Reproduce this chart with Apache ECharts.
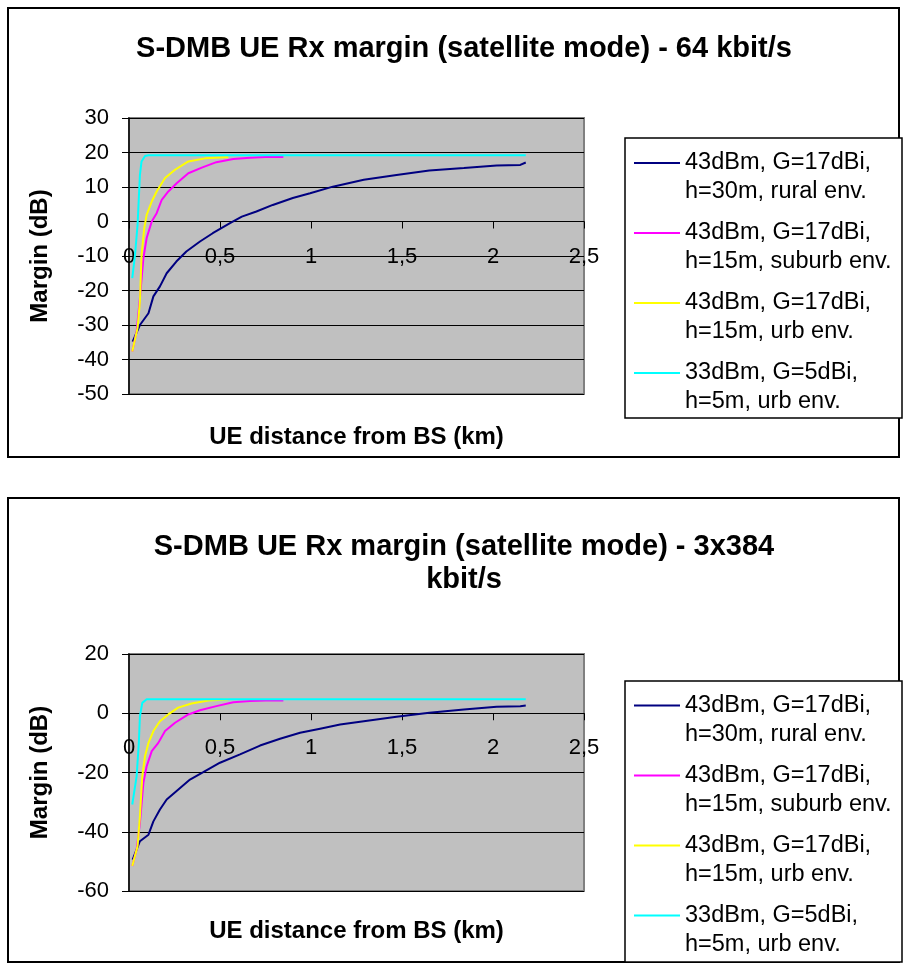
<!DOCTYPE html>
<html>
<head>
<meta charset="utf-8">
<script src="https://cdn.jsdelivr.net/npm/echarts@6/dist/echarts.min.js"></script>
<style>
html,body{margin:0;padding:0;background:#fff;}
#chart{width:904px;height:974px;}
</style>
</head>
<body>
<div id="chart"></div>
<script>
// ---- Text ----
const titleTop = 'S-DMB UE Rx margin (satellite mode) - 64 kbit/s';
const titleBottom = 'S-DMB UE Rx margin (satellite mode) - 3x384\nkbit/s';
const xAxisName = 'UE distance from BS (km)';
const yAxisName = 'Margin (dB)';
const seriesNames = [
  '43dBm, G=17dBi,\nh=30m, rural env.',
  '43dBm, G=17dBi,\nh=15m, suburb env.',
  '43dBm, G=17dBi,\nh=15m, urb env.',
  '33dBm, G=5dBi,\nh=5m, urb env.'
];
const seriesColors = ['#000080', '#FF00FF', '#FFFF00', '#00FFFF'];
const xTickLabels = ['0', '0,5', '1', '1,5', '2', '2,5'];
const yTickLabelsTop = ['-50', '-40', '-30', '-20', '-10', '0', '10', '20', '30'];
const yTickLabelsBottom = ['-60', '-40', '-20', '0', '20'];

// ---- Top chart data (64 kbit/s) ----
const distRural64 = [0.02, 0.06, 0.107, 0.134, 0.17, 0.207, 0.26, 0.315, 0.39, 0.46, 0.555, 0.62, 0.70, 0.79, 0.90, 0.995, 1.12, 1.29, 1.47, 1.65, 1.84, 2.02, 2.15, 2.18];
const marginRural64 = [-34.8, -30, -26.6, -21.7, -18.8, -15, -11.6, -8.7, -5.8, -3.4, -0.5, 1.4, 2.9, 4.8, 6.8, 8.2, 10.1, 12.1, 13.5, 14.8, 15.5, 16.2, 16.4, 17.1];
const distSuburb64 = [0.018, 0.042, 0.06, 0.079, 0.097, 0.125, 0.152, 0.18, 0.216, 0.262, 0.326, 0.40, 0.48, 0.573, 0.665, 0.75, 0.848];
const marginSuburb64 = [-37.7, -31.9, -22.2, -10.6, -4.8, 0, 2.4, 6.3, 8.7, 11.1, 14, 15.6, 17.2, 18.1, 18.5, 18.7, 18.7];
const distUrb64 = [0.018, 0.047, 0.06, 0.069, 0.084, 0.097, 0.125, 0.152, 0.198, 0.253, 0.326, 0.418, 0.527, 0.545];
const marginUrb64 = [-37.7, -30.9, -23.2, -9.7, -1.9, 1.9, 5.8, 8.7, 12.6, 15, 17.4, 18.3, 18.6, 18.6];
const distUrb5m64 = [0.018, 0.033, 0.047, 0.054, 0.06, 0.069, 0.088, 0.107, 2.18];
const marginUrb5m64 = [-16.4, -9.7, -1, 6.8, 13.5, 17.4, 19.0, 19.2, 19.2];

// ---- Bottom chart data (3x384 kbit/s) ----
const distRural384 = [0.02, 0.06, 0.107, 0.134, 0.17, 0.207, 0.26, 0.335, 0.408, 0.5, 0.61, 0.72, 0.83, 0.94, 1.05, 1.16, 1.29, 1.47, 1.65, 1.84, 2.02, 2.15, 2.18];
const marginRural384 = [-49.4, -43.2, -41, -36.5, -32.5, -29.1, -26.3, -22.4, -19.9, -16.7, -13.9, -10.9, -8.6, -6.6, -5.2, -3.8, -2.7, -1.2, 0.2, 1.3, 2.2, 2.4, 2.6];
const distSuburb384 = [0.018, 0.042, 0.06, 0.079, 0.097, 0.125, 0.161, 0.198, 0.253, 0.326, 0.39, 0.48, 0.573, 0.665, 0.75, 0.848];
const marginSuburb384 = [-51.6, -46, -37, -23.5, -17.9, -12.8, -10, -6, -3.2, -0.4, 1.0, 2.4, 3.7, 4.1, 4.3, 4.3];
const distUrb384 = [0.018, 0.047, 0.06, 0.073, 0.088, 0.107, 0.134, 0.17, 0.216, 0.27, 0.344, 0.436, 0.545];
const marginUrb384 = [-51.6, -44.9, -34.8, -21.2, -14.5, -10, -6, -2.7, -0.4, 1.9, 3.3, 4.3, 4.6];
const distUrb5m384 = [0.018, 0.042, 0.054, 0.06, 0.073, 0.097, 2.18];
const marginUrb5m384 = [-30.8, -21.2, -10, -1, 3.5, 4.7, 4.7];

const topSets = [[distRural64, marginRural64], [distSuburb64, marginSuburb64], [distUrb64, marginUrb64], [distUrb5m64, marginUrb5m64]];
const bottomSets = [[distRural384, marginRural384], [distSuburb384, marginSuburb384], [distUrb384, marginUrb384], [distUrb5m384, marginUrb5m384]];

function zip(xs, ys) { return xs.map((x, i) => [x, ys[i]]); }

const FONT = '"Liberation Sans", Arial, sans-serif';
const chart = echarts.init(document.getElementById('chart'), null, {renderer: 'canvas'});

// grid geometry (plot areas)
const G1 = {left: 129, top: 118, width: 455, height: 276, yMin: -50, yMax: 30};
const G2 = {left: 129, top: 654, width: 455, height: 237, yMin: -60, yMax: 20};
// distance from the plot bottom up to the y = 0 line (the x axis crosses there)
function zeroOffset(g) { return -g.height * (0 - g.yMin) / (g.yMax - g.yMin); }

function xAxisCfg(gridIndex, g, nameGap) {
  return {
    type: 'value', gridIndex: gridIndex, min: 0, max: 2.5, interval: 0.5,
    position: 'bottom', offset: zeroOffset(g),
    name: xAxisName, nameLocation: 'middle', nameGap: nameGap,
    nameTextStyle: {fontFamily: FONT, fontSize: 24, fontWeight: 'bold', color: '#000'},
    axisLine: {show: true, onZero: false, lineStyle: {color: '#000', width: 1}},
    axisTick: {show: true, length: 7, lineStyle: {color: '#000', width: 1}},
    splitLine: {show: false},
    axisLabel: {fontFamily: FONT, fontSize: 22, color: '#000', margin: 24,
      formatter: (v, i) => xTickLabels[i]}
  };
}
function yAxisCfg(gridIndex, g, interval, labels) {
  return {
    type: 'value', gridIndex: gridIndex, min: g.yMin, max: g.yMax, interval: interval,
    name: yAxisName, nameLocation: 'middle', nameGap: 77, nameRotate: 90,
    nameTextStyle: {fontFamily: FONT, fontSize: 24, fontWeight: 'bold', color: '#000'},
    axisLine: {show: true, onZero: false, lineStyle: {color: '#000', width: 1.5}},
    axisTick: {show: true, length: 7, lineStyle: {color: '#000', width: 1}},
    splitLine: {show: true, lineStyle: {color: '#000', width: 1}},
    axisLabel: {fontFamily: FONT, fontSize: 22, color: '#000', margin: 20,
      formatter: (v, i) => labels[i]}
  };
}
function legendCfg(top, seriesPrefix) {
  return {
    orient: 'vertical', left: 634, top: top, padding: 0,
    icon: 'rect', itemWidth: 46, itemHeight: 2, itemGap: -17,
    data: seriesNames.map(n => seriesPrefix + n),
    // leading empty line so that the line sample sits beside the first text line
    formatter: name => '\n' + name.slice(seriesPrefix.length),
    textStyle: {fontFamily: FONT, fontSize: 23.5, color: '#000', lineHeight: 29},
    selectedMode: false
  };
}

const series = [];
topSets.forEach((s, i) => series.push({
  name: 'A' + seriesNames[i], type: 'line', xAxisIndex: 0, yAxisIndex: 0,
  data: zip(s[0], s[1]), symbol: 'none', color: seriesColors[i],
  lineStyle: {color: seriesColors[i], width: 2}, animation: false
}));
bottomSets.forEach((s, i) => series.push({
  name: 'B' + seriesNames[i], type: 'line', xAxisIndex: 1, yAxisIndex: 1,
  data: zip(s[0], s[1]), symbol: 'none', color: seriesColors[i],
  lineStyle: {color: seriesColors[i], width: 2}, animation: false
}));

chart.setOption({
  animation: false,
  backgroundColor: '#fff',
  title: [
    {text: titleTop, left: 464, textAlign: 'center', top: 34, padding: 0,
     textStyle: {fontFamily: FONT, fontSize: 29, fontWeight: 'bold', color: '#000'}},
    {text: titleBottom, left: 464, textAlign: 'center', top: 530, padding: 0,
     textStyle: {fontFamily: FONT, fontSize: 29, fontWeight: 'bold', color: '#000', lineHeight: 33}}
  ],
  graphic: [
    {type: 'rect', shape: {x: 8, y: 8, width: 891, height: 449}, style: {fill: 'none', stroke: '#000', lineWidth: 2}, z: 0},
    {type: 'rect', shape: {x: 8, y: 498, width: 891, height: 464}, style: {fill: 'none', stroke: '#000', lineWidth: 2}, z: 0},
    {type: 'rect', shape: {x: 625, y: 138, width: 277, height: 280}, style: {fill: '#fff', stroke: '#000', lineWidth: 1.5}, z: 0},
    {type: 'rect', shape: {x: 625, y: 681, width: 277, height: 281}, style: {fill: '#fff', stroke: '#000', lineWidth: 1.5}, z: 0}
  ],
  grid: [
    {left: G1.left, top: G1.top, width: G1.width, height: G1.height, show: true, backgroundColor: '#C0C0C0', borderColor: '#808080', borderWidth: 2, containLabel: false, outerBoundsMode: 'none'},
    {left: G2.left, top: G2.top, width: G2.width, height: G2.height, show: true, backgroundColor: '#C0C0C0', borderColor: '#808080', borderWidth: 2, containLabel: false, outerBoundsMode: 'none'}
  ],
  xAxis: [xAxisCfg(0, G1, 204), xAxisCfg(1, G2, 206)],
  yAxis: [yAxisCfg(0, G1, 10, yTickLabelsTop), yAxisCfg(1, G2, 20, yTickLabelsBottom)],
  legend: [legendCfg(119.5, 'A'), legendCfg(662, 'B')],
  series: series
});
</script>
</body>
</html>
